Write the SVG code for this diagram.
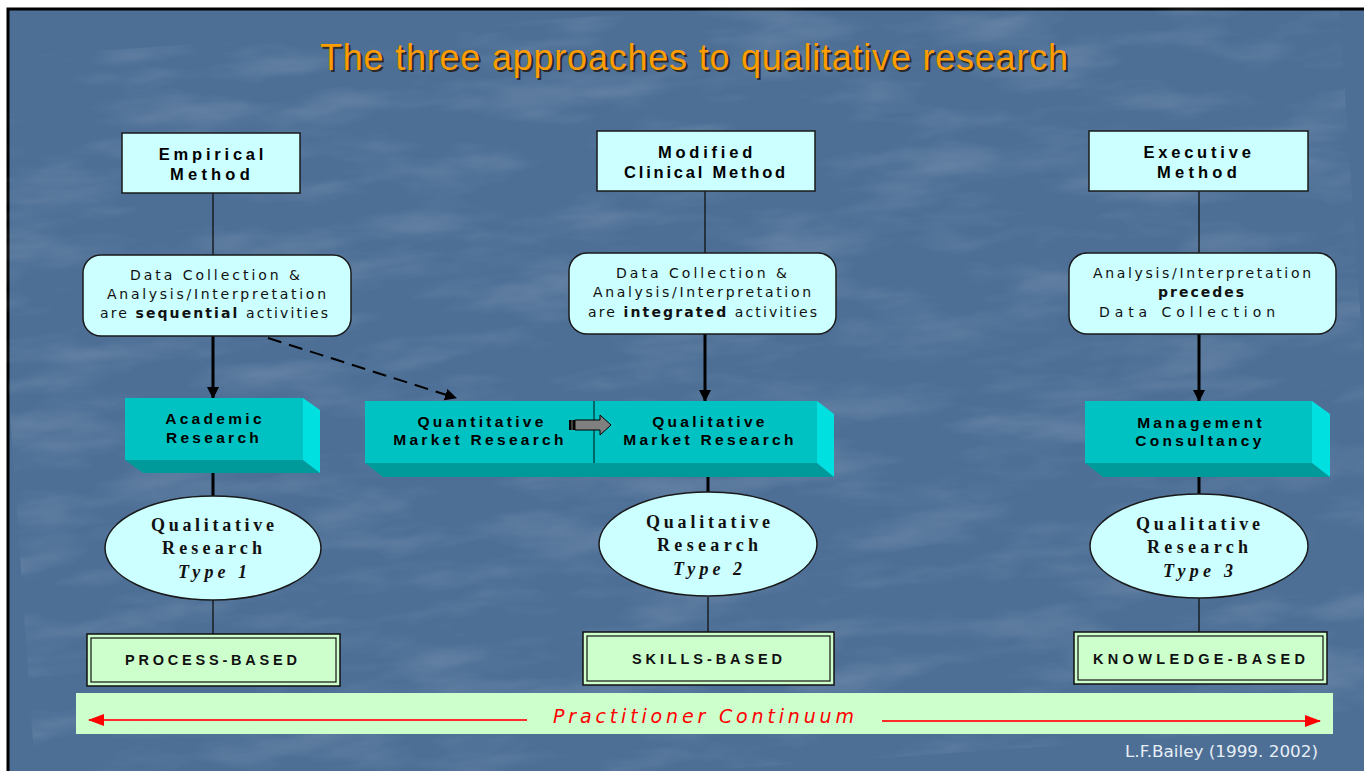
<svg xmlns="http://www.w3.org/2000/svg" width="1364" height="771" viewBox="0 0 1364 771">
  <defs>
    <style>
      .hdr { fill: #ccffff; stroke: #1a1a1a; stroke-width: 1.5; }
      .hdrtxt { font-family: "Liberation Sans", Arial, sans-serif; font-weight: bold; font-size: 16.5px; fill: #000; text-anchor: middle; }
      .rbox { fill: #ccffff; stroke: #1a1a1a; stroke-width: 1.5; }
      .rtxt { font-family: "DejaVu Sans", "Liberation Sans", sans-serif; font-size: 14px; fill: #111; }
      .rtxt .b { font-weight: bold; }
      .front { fill: #00c2c2; }
      .side { fill: #00e0e0; }
      .under { fill: #009a9a; }
      .btxt { font-family: "Liberation Sans", Arial, sans-serif; font-weight: bold; font-size: 15.5px; fill: #000; text-anchor: middle; letter-spacing: 3.3px; }
      .ell { fill: #ccffff; stroke: #1a1a1a; stroke-width: 1.5; }
      .etxt { font-family: "Liberation Serif", "Times New Roman", serif; font-weight: bold; font-size: 18px; fill: #111; }
      .base-out { fill: #ccffcc; stroke: #111; stroke-width: 1.5; }
      .base-in { fill: none; stroke: #111; stroke-width: 1.2; }
      .basetxt { font-family: "Liberation Sans", Arial, sans-serif; font-weight: bold; font-size: 14.5px; fill: #111; }
      .thin { stroke: #111; stroke-width: 1.3; fill: none; }
      .thick { stroke: #000; stroke-width: 3; fill: none; }
    </style>
    <marker id="blackHead" markerWidth="12" markerHeight="12" refX="11" refY="6" orient="auto" markerUnits="userSpaceOnUse">
      <path d="M0,0 L12,6 L0,12 Z" fill="#000"/>
    </marker>
    <marker id="redHead" markerWidth="16" markerHeight="12" refX="15" refY="6" orient="auto" markerUnits="userSpaceOnUse">
      <path d="M0,0 L16,6 L0,12 Z" fill="#ff0000"/>
    </marker>
    <filter id="marble" x="0" y="0" width="100%" height="100%">
      <feTurbulence type="fractalNoise" baseFrequency="0.008 0.03" numOctaves="4" seed="11" result="n"/>
      <feColorMatrix in="n" type="matrix" values="0 0 0 0 1  0 0 0 0 1  0 0 0 0 1  0 0 0 1.4 -0.62" result="w"/>
      <feComposite in="w" in2="SourceGraphic" operator="in"/>
    </filter>
  </defs>

  <!-- slide frame and textured blue background -->
  <rect x="0" y="0" width="1364" height="771" fill="#ffffff"/>
  <rect x="8" y="9" width="1360" height="770" fill="#4d6f96" stroke="#000" stroke-width="3"/>
  <rect x="10" y="11" width="1354" height="760" fill="#4d6f96" filter="url(#marble)" opacity="0.2" transform="rotate(-4 682 390)"/>

  <!-- title -->
  <g id="title" font-family="'Liberation Sans', Arial, sans-serif" font-size="36" text-anchor="middle">
    <text x="696" y="72" fill="#2a2a2a" textLength="748">The three approaches to qualitative research</text>
    <text x="694" y="70" fill="#ff9c00" textLength="748">The three approaches to qualitative research</text>
  </g>

  <!-- connectors -->
  <g id="connectors">
    <line class="thin" x1="213" y1="193" x2="213" y2="255"/>
    <line class="thin" x1="705" y1="191" x2="705" y2="253"/>
    <line class="thin" x1="1199" y1="191" x2="1199" y2="253"/>
    <line class="thick" x1="213" y1="336" x2="213" y2="398" marker-end="url(#blackHead)"/>
    <line class="thick" x1="705" y1="334" x2="705" y2="401" marker-end="url(#blackHead)"/>
    <line class="thick" x1="1199" y1="334" x2="1199" y2="401" marker-end="url(#blackHead)"/>
    <line x1="268" y1="338" x2="456" y2="398" stroke="#000" stroke-width="2" stroke-dasharray="14 8" marker-end="url(#blackHead)"/>
    <line class="thick" x1="213" y1="473" x2="213" y2="497"/>
    <line class="thick" x1="708" y1="463" x2="708" y2="492"/>
    <line class="thick" x1="1199" y1="463" x2="1199" y2="494"/>
    <line class="thin" x1="213" y1="600" x2="213" y2="634"/>
    <line class="thin" x1="708" y1="597" x2="708" y2="632"/>
    <line class="thin" x1="1199" y1="598" x2="1199" y2="632"/>
  </g>

  <!-- method headers -->
  <g id="empirical-method">
    <rect class="hdr" x="122" y="133" width="178" height="60"/>
    <text class="hdrtxt" x="213" y="160" letter-spacing="3.8">Empirical</text>
    <text class="hdrtxt" x="212" y="180" letter-spacing="4.2">Method</text>
  </g>
  <g id="modified-clinical-method">
    <rect class="hdr" x="597" y="131" width="218" height="60"/>
    <text class="hdrtxt" x="707" y="158" letter-spacing="3.8">Modified</text>
    <text class="hdrtxt" x="706" y="178" letter-spacing="2.8">Clinical Method</text>
  </g>
  <g id="executive-method">
    <rect class="hdr" x="1089" y="131" width="219" height="60"/>
    <text class="hdrtxt" x="1199" y="158" letter-spacing="3.8">Executive</text>
    <text class="hdrtxt" x="1199" y="178" letter-spacing="4.2">Method</text>
  </g>

  <!-- data collection / interpretation boxes -->
  <g id="sequential-box">
    <rect class="rbox" x="83" y="255" width="268" height="81" rx="18"/>
    <text class="rtxt" x="130" y="280" textLength="170" lengthAdjust="spacing">Data Collection &amp;</text>
    <text class="rtxt" x="107" y="299" textLength="219" lengthAdjust="spacing">Analysis/Interpretation</text>
    <text class="rtxt" x="100" y="318" textLength="228" lengthAdjust="spacing">are <tspan class="b">sequential</tspan> activities</text>
  </g>
  <g id="integrated-box">
    <rect class="rbox" x="569" y="253" width="267" height="81" rx="18"/>
    <text class="rtxt" x="616" y="278" textLength="171" lengthAdjust="spacing">Data Collection &amp;</text>
    <text class="rtxt" x="593" y="297" textLength="218" lengthAdjust="spacing">Analysis/Interpretation</text>
    <text class="rtxt" x="588" y="317" textLength="229" lengthAdjust="spacing">are <tspan class="b">integrated</tspan> activities</text>
  </g>
  <g id="precedes-box">
    <rect class="rbox" x="1069" y="253" width="267" height="81" rx="18"/>
    <text class="rtxt" x="1093" y="278" textLength="218" lengthAdjust="spacing">Analysis/Interpretation</text>
    <text class="rtxt" x="1158" y="297" textLength="86" lengthAdjust="spacing" font-weight="bold">precedes</text>
    <text class="rtxt" x="1099" y="317" textLength="176" lengthAdjust="spacing">Data Collection</text>
  </g>

  <!-- research blocks (3D bars) -->
  <g id="academic-research">
    <polygon class="under" points="125,460 303,460 320,473 143,473"/>
    <polygon class="side" points="303,398 320,410 320,473 303,460"/>
    <rect class="front" x="125" y="398" width="178" height="62"/>
    <text class="btxt" x="215" y="424">Academic</text>
    <text class="btxt" x="214" y="443">Research</text>
  </g>
  <g id="market-research">
    <polygon class="under" points="365,463 817,463 834,477 383,477"/>
    <polygon class="side" points="817,401 834,414 834,477 817,463"/>
    <rect class="front" x="365" y="401" width="452" height="62"/>
    <line x1="594" y1="401" x2="594" y2="463" stroke="#004a4a" stroke-width="1.5"/>
    <text class="btxt" x="482" y="427">Quantitative</text>
    <text class="btxt" x="480" y="445">Market Research</text>
    <text class="btxt" x="710" y="427">Qualitative</text>
    <text class="btxt" x="710" y="445">Market Research</text>
    <!-- small transfer arrow -->
    <rect x="569" y="420" width="6" height="10" fill="#000"/>
    <path d="M575,420 L600,420 L600,415 L611,425 L600,435 L600,430 L575,430 Z" fill="#808080" stroke="#000" stroke-width="1"/>
    <line x1="572" y1="420" x2="572" y2="430" stroke="#808080" stroke-width="1"/>
  </g>
  <g id="management-consultancy">
    <polygon class="under" points="1085,463 1312,463 1330,477 1103,477"/>
    <polygon class="side" points="1312,401 1330,414 1330,477 1312,463"/>
    <rect class="front" x="1085" y="401" width="227" height="62"/>
    <text class="btxt" x="1201" y="428">Management</text>
    <text class="btxt" x="1200" y="446">Consultancy</text>
  </g>

  <!-- qualitative research types -->
  <g id="type-1">
    <ellipse class="ell" cx="213" cy="548" rx="108" ry="52"/>
    <text class="etxt" x="151" y="531" textLength="123" lengthAdjust="spacing">Qualitative</text>
    <text class="etxt" x="162" y="554" textLength="100" lengthAdjust="spacing">Research</text>
    <text class="etxt" x="178" y="578" textLength="69" lengthAdjust="spacing" font-style="italic">Type 1</text>
  </g>
  <g id="type-2">
    <ellipse class="ell" cx="708" cy="544" rx="109" ry="52"/>
    <text class="etxt" x="646" y="528" textLength="124" lengthAdjust="spacing">Qualitative</text>
    <text class="etxt" x="657" y="551" textLength="101" lengthAdjust="spacing">Research</text>
    <text class="etxt" x="673" y="575" textLength="69" lengthAdjust="spacing" font-style="italic">Type 2</text>
  </g>
  <g id="type-3">
    <ellipse class="ell" cx="1199" cy="546" rx="109" ry="52"/>
    <text class="etxt" x="1136" y="530" textLength="124" lengthAdjust="spacing">Qualitative</text>
    <text class="etxt" x="1147" y="553" textLength="101" lengthAdjust="spacing">Research</text>
    <text class="etxt" x="1163" y="577" textLength="70" lengthAdjust="spacing" font-style="italic">Type 3</text>
  </g>

  <!-- basis boxes -->
  <g id="process-based">
    <rect class="base-out" x="87" y="634" width="253" height="52"/>
    <rect class="base-in" x="91" y="638" width="245" height="44"/>
    <text class="basetxt" x="125" y="665" textLength="172" lengthAdjust="spacing">PROCESS-BASED</text>
  </g>
  <g id="skills-based">
    <rect class="base-out" x="583" y="632" width="251" height="53"/>
    <rect class="base-in" x="587" y="636" width="243" height="45"/>
    <text class="basetxt" x="632" y="664" textLength="150" lengthAdjust="spacing">SKILLS-BASED</text>
  </g>
  <g id="knowledge-based">
    <rect class="base-out" x="1074" y="632" width="253" height="52"/>
    <rect class="base-in" x="1078" y="636" width="245" height="44"/>
    <text class="basetxt" x="1093" y="664" textLength="212" lengthAdjust="spacing">KNOWLEDGE-BASED</text>
  </g>

  <!-- practitioner continuum band -->
  <g id="continuum">
    <rect x="76" y="693" width="1257" height="41" fill="#ccffcc"/>
    <line x1="527" y1="720" x2="89" y2="720" stroke="#ff2a2a" stroke-width="1.8" marker-end="url(#redHead)"/>
    <line x1="882" y1="721" x2="1320" y2="721" stroke="#ff2a2a" stroke-width="1.8" marker-end="url(#redHead)"/>
    <text x="553" y="723" textLength="301" lengthAdjust="spacing" font-family="'DejaVu Sans', 'Liberation Sans', sans-serif" font-style="italic" font-size="19" fill="#ff0000">Practitioner Continuum</text>
  </g>

  <text id="credit" x="1125" y="757" textLength="193" lengthAdjust="spacingAndGlyphs" font-family="'DejaVu Sans', 'Liberation Sans', sans-serif" font-size="16" fill="#e8eef5">L.F.Bailey (1999. 2002)</text>
</svg>
